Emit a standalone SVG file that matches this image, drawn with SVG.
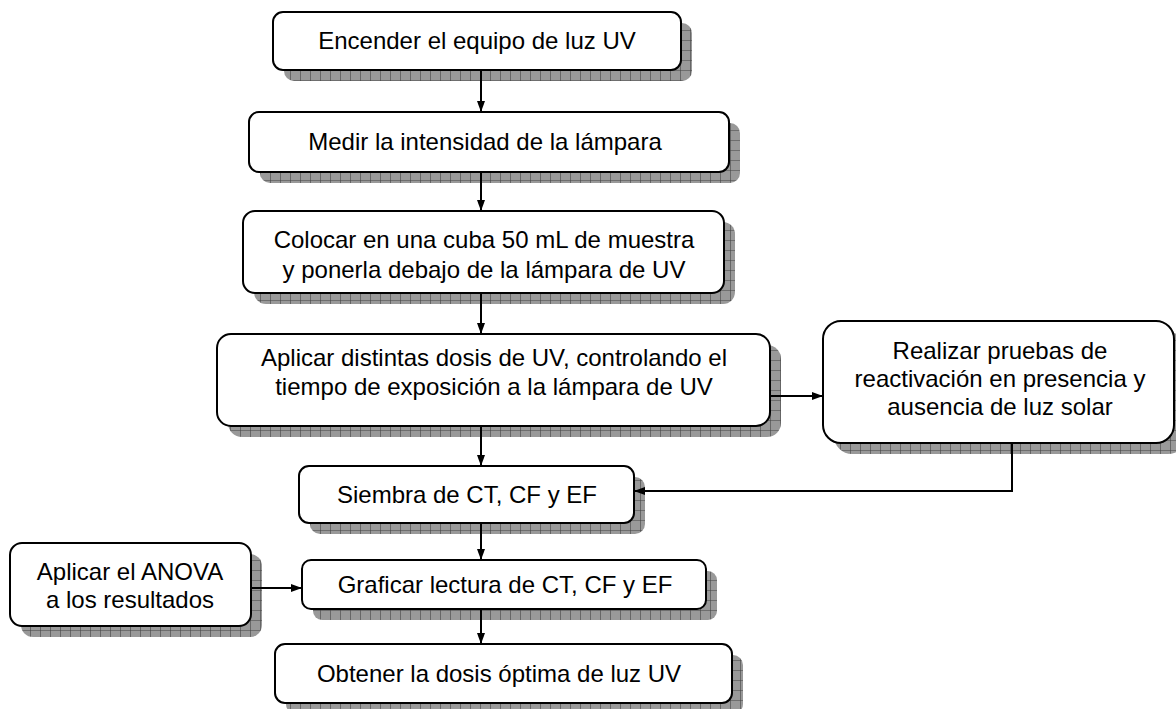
<svg xmlns="http://www.w3.org/2000/svg" width="1176" height="709" viewBox="0 0 1176 709">
<style>
.box{fill:#fff;stroke:#000;stroke-width:2}
.shadow{fill:url(#grid)}
.t{font-family:"Liberation Sans",Arial,sans-serif;font-size:24px;fill:#000;text-anchor:middle}
.c{fill:none;stroke:#000;stroke-width:2}
</style>
<defs>
<pattern id="grid" width="10" height="10" patternUnits="userSpaceOnUse">
<rect width="10" height="10" fill="#999"/>
<path d="M0 0H10M0 0V10" stroke="#444" stroke-width="1.2"/>
</pattern>
<marker id="ah" markerWidth="11" markerHeight="10" refX="10" refY="5" orient="auto" markerUnits="userSpaceOnUse">
<path d="M0 1L11 5L0 9Z" fill="#000"/>
</marker>
</defs>
<g id="n1">
<rect class="shadow" x="284" y="23" width="408" height="58" rx="10"/>
<rect class="box" x="273" y="12" width="408" height="58" rx="10"/>
<text class="t" x="477" y="49">Encender el equipo de luz UV</text>
</g>
<g id="n2">
<rect class="shadow" x="260" y="123" width="480" height="60" rx="10"/>
<rect class="box" x="249" y="112" width="480" height="60" rx="10"/>
<text class="t" x="485" y="150">Medir la intensidad de la lámpara</text>
</g>
<g id="n3">
<rect class="shadow" x="254" y="222" width="481" height="82" rx="12"/>
<rect class="box" x="243" y="211" width="481" height="82" rx="12"/>
<text class="t" x="484" y="248">Colocar en una cuba 50 mL de muestra</text>
<text class="t" x="484" y="278">y ponerla debajo de la lámpara de UV</text>
</g>
<g id="n4">
<rect class="shadow" x="228" y="345" width="553" height="92" rx="14"/>
<rect class="box" x="217" y="334" width="553" height="92" rx="14"/>
<text class="t" x="494" y="366">Aplicar distintas dosis de UV, controlando el</text>
<text class="t" x="494" y="395">tiempo de exposición a la lámpara de UV</text>
</g>
<g id="n5">
<rect class="shadow" x="834" y="332" width="352" height="122" rx="18"/>
<rect class="box" x="823" y="321" width="351" height="122" rx="18"/>
<text class="t" x="1000" y="359">Realizar pruebas de</text>
<text class="t" x="1000" y="387">reactivación en presencia y</text>
<text class="t" x="1000" y="415">ausencia de luz solar</text>
</g>
<g id="n6">
<rect class="shadow" x="310" y="477" width="335" height="57" rx="10"/>
<rect class="box" x="299" y="466" width="335" height="57" rx="10"/>
<text class="t" x="467" y="503">Siembra de CT, CF y EF</text>
</g>
<g id="n7">
<rect class="shadow" x="21" y="554" width="241" height="83" rx="12"/>
<rect class="box" x="10" y="543" width="241" height="83" rx="12"/>
<text class="t" x="130" y="580">Aplicar el ANOVA</text>
<text class="t" x="130" y="608">a los resultados</text>
</g>
<g id="n8">
<rect class="shadow" x="313" y="571" width="404" height="49" rx="9"/>
<rect class="box" x="302" y="560" width="404" height="49" rx="9"/>
<text class="t" x="505" y="593">Graficar lectura de CT, CF y EF</text>
</g>
<g id="n9">
<rect class="shadow" x="286" y="655" width="457" height="59" rx="10"/>
<rect class="box" x="275" y="644" width="457" height="59" rx="10"/>
<text class="t" x="499" y="682">Obtener la dosis óptima de luz UV</text>
</g>
<g id="connectors">
<path class="c" d="M481 70V111" marker-end="url(#ah)"/>
<path class="c" d="M481 172V210" marker-end="url(#ah)"/>
<path class="c" d="M481 293V333" marker-end="url(#ah)"/>
<path class="c" d="M481 426V465" marker-end="url(#ah)"/>
<path class="c" d="M481 523V559" marker-end="url(#ah)"/>
<path class="c" d="M481 609V643" marker-end="url(#ah)"/>
<path class="c" d="M770 396H822" marker-end="url(#ah)"/>
<path class="c" d="M1012 443V491H635" marker-end="url(#ah)"/>
<path class="c" d="M251 588H301" marker-end="url(#ah)"/>
</g>
</svg>
